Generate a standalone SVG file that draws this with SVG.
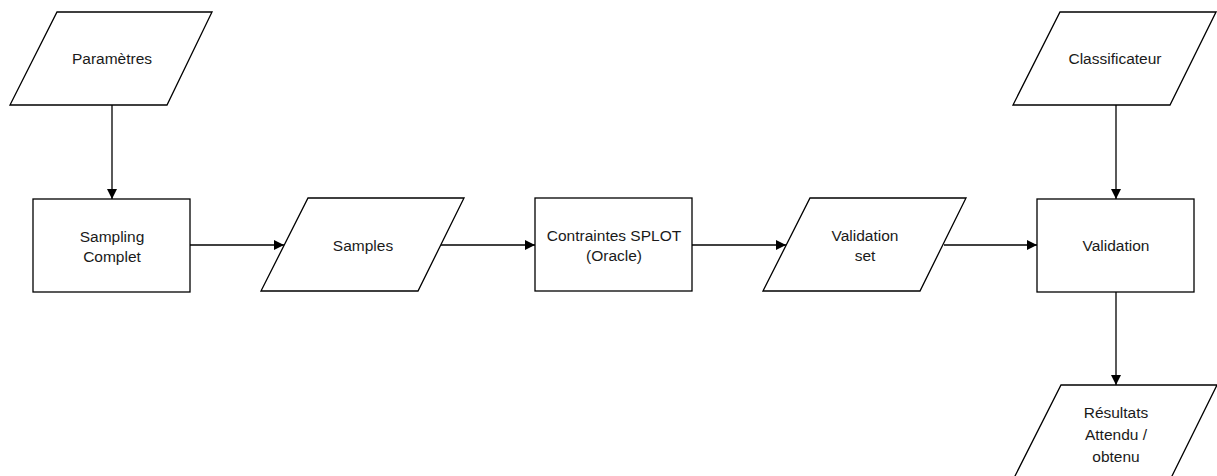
<svg xmlns="http://www.w3.org/2000/svg" width="1217" height="476" viewBox="0 0 1217 476">
  <defs>
    <marker id="arrow" viewBox="0 0 10 10" refX="10" refY="5" markerWidth="10" markerHeight="10" markerUnits="userSpaceOnUse" orient="auto">
      <path d="M0,0 L10,5 L0,10 Z" fill="#000"/>
    </marker>
  </defs>
  <style>
    .shape { fill: #fff; stroke: #000; stroke-width: 1.3; }
    .edge { fill: none; stroke: #000; stroke-width: 1.3; marker-end: url(#arrow); }
    text { font-family: "Liberation Sans", Arial, sans-serif; font-size: 15.5px; fill: #1a1a1a; text-anchor: middle; }
  </style>
  <rect width="1217" height="476" fill="#fff"/>

  <g id="connectors">
    <line class="edge" x1="112" y1="105" x2="112" y2="199"/>
    <line class="edge" x1="190" y1="245" x2="284" y2="245"/>
    <line class="edge" x1="441" y1="245" x2="535" y2="245"/>
    <line class="edge" x1="692" y1="245" x2="786" y2="245"/>
    <line class="edge" x1="944" y1="245" x2="1037" y2="245"/>
    <line class="edge" x1="1116" y1="105" x2="1116" y2="199"/>
    <line class="edge" x1="1116" y1="292" x2="1116" y2="385"/>
  </g>

  <g id="parametres">
    <polygon class="shape" points="57,12 212,12 167,105 10,105"/>
    <text x="112" y="64">Paramètres</text>
  </g>

  <g id="sampling-complet">
    <rect class="shape" x="33" y="199" width="157" height="93"/>
    <text x="112" y="242">Sampling</text>
    <text x="112" y="262">Complet</text>
  </g>

  <g id="samples">
    <polygon class="shape" points="308,198 464,198 418,291 261,291"/>
    <text x="363" y="251">Samples</text>
  </g>

  <g id="contraintes-splot">
    <rect class="shape" x="535" y="198" width="157" height="93"/>
    <text x="614" y="241">Contraintes SPLOT</text>
    <text x="614" y="261">(Oracle)</text>
  </g>

  <g id="validation-set">
    <polygon class="shape" points="810,198 966,198 920,291 763,291"/>
    <text x="865" y="241">Validation</text>
    <text x="865" y="261">set</text>
  </g>

  <g id="classificateur">
    <polygon class="shape" points="1060,12 1216,12 1170,105 1013,105"/>
    <text x="1115" y="64">Classificateur</text>
  </g>

  <g id="validation">
    <rect class="shape" x="1037" y="199" width="157" height="93"/>
    <text x="1116" y="251">Validation</text>
  </g>

  <g id="resultats">
    <polygon class="shape" points="1061,385 1217,385 1171,478 1014,478"/>
    <text x="1116" y="418">Résultats</text>
    <text x="1116" y="440">Attendu /</text>
    <text x="1116" y="462">obtenu</text>
  </g>
</svg>
